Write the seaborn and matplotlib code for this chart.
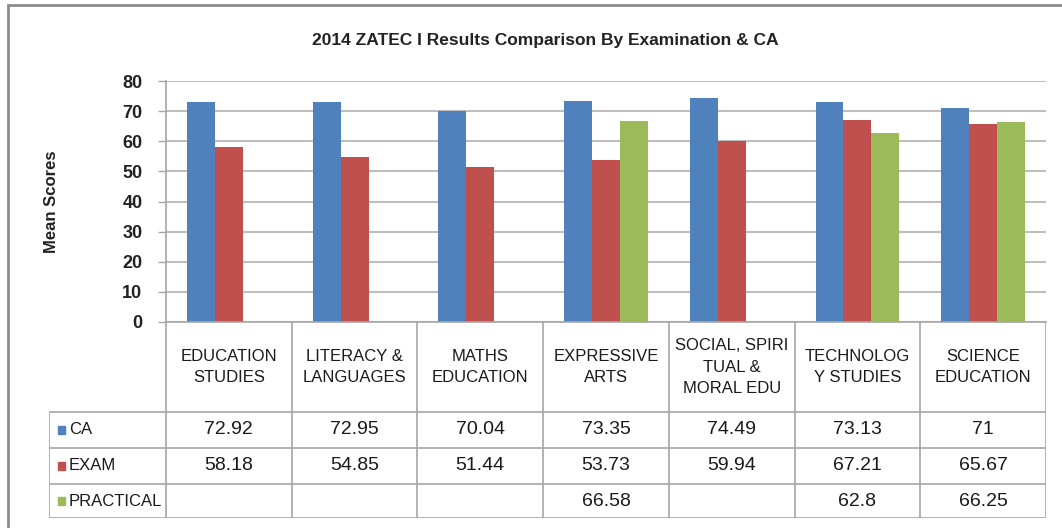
import numpy as np
import pandas as pd
import matplotlib
matplotlib.use("Agg")
import matplotlib.pyplot as plt
import seaborn as sns
from matplotlib.patches import Rectangle

categories = ["EDUCATION\nSTUDIES", "LITERACY &\nLANGUAGES", "MATHS\nEDUCATION",
              "EXPRESSIVE\nARTS", "SOCIAL, SPIRI\nTUAL &\nMORAL EDU",
              "TECHNOLOG\nY STUDIES", "SCIENCE\nEDUCATION"]
series = ["CA", "EXAM", "PRACTICAL"]
ca = [72.92, 72.95, 70.04, 73.35, 74.49, 73.13, 71]
exam = [58.18, 54.85, 51.44, 53.73, 59.94, 67.21, 65.67]
practical = [np.nan, np.nan, np.nan, 66.58, np.nan, 62.8, 66.25]
yticks = [0, 10, 20, 30, 40, 50, 60, 70, 80]
colors = ["#4F81BD", "#C0504D", "#9BBB59"]

title = "2014 ZATEC I Results Comparison By Examination & CA"

rows = []
for name, vals in zip(series, [ca, exam, practical]):
    for cat, v in zip(categories, vals):
        rows.append({"category": cat, "series": name, "score": v})
df = pd.DataFrame(rows)

sns.set_theme(style="white")
plt.rcParams['font.family'] = ['Liberation Sans', 'DejaVu Sans']

W, H = 1062, 528
fig = plt.figure(figsize=(W / 100, H / 100), dpi=100)

def fx(px):
    return px / W

def fy(py):
    return 1 - py / H

# plot area in pixels
pl, pr, pt, pb = 166, 1046, 81, 322
ax = fig.add_axes([fx(pl), fy(pb), fx(pr - pl), fy(pt) - fy(pb)])

sns.barplot(data=df.dropna(), x="category", y="score", hue="series",
            hue_order=series, order=categories, palette=colors,
            width=0.667, gap=0, linewidth=0, ax=ax, legend=False,
            errorbar=None, saturation=1)

ax.set_xlim(-0.5, len(categories) - 0.5)
ax.set_ylim(0, 80)
ax.set_yticks(yticks)
ax.set_yticklabels([str(t) for t in yticks], fontsize=13, fontweight="bold", color="#222222")
ax.yaxis.grid(True, color="#BEBEBE", linewidth=1.5)
ax.set_axisbelow(True)
ax.tick_params(axis="y", length=6, width=1, color="#A6A6A6", direction="out", pad=11, left=True)
ax.set_xticks([])
ax.set_xlabel("")
ax.set_ylabel("")
for s in ["top", "right"]:
    ax.spines[s].set_visible(False)
for s in ["left", "bottom"]:
    ax.spines[s].set_color("#A6A6A6")
    ax.spines[s].set_linewidth(1.2)

fig.text(fx(52), fy(202), "Mean Scores", rotation=90, ha="center", va="center",
         fontsize=12, fontweight="bold", color="#222222")
fig.text(fx(545), fy(40), title, ha="center", va="center",
         fontsize=12.5, fontweight="bold", color="#222222")

# data table below the plot
tl, tb = 49, 518
extra = (pl - tl) / ((pr - pl) / len(categories))
tax = fig.add_axes([fx(tl), fy(tb), fx(pr - tl), fy(pb) - fy(tb)])
tax.set_xlim(-0.5 - extra, len(categories) - 0.5)
tax.set_ylim(tb - pb, 0)
tax.axis("off")

line_kw = dict(color="#A6A6A6", linewidth=1.2, solid_capstyle="butt")
row_edges = [90, 126, 162, tb - pb]
left_edge = -0.5 - extra
for k in range(len(categories) + 1):
    tax.plot([k - 0.5, k - 0.5], [0, tb - pb], **line_kw)
tax.plot([left_edge, left_edge], [row_edges[0], row_edges[-1]], **line_kw)
for r in row_edges:
    tax.plot([left_edge, len(categories) - 0.5], [r, r], **line_kw)

for i, cat in enumerate(categories):
    tax.text(i, row_edges[0] / 2, cat, ha="center", va="center", fontsize=12,
             color="#1A1A1A", linespacing=1.55)

for j, (name, vals) in enumerate(zip(series, [ca, exam, practical])):
    yc = (row_edges[j] + row_edges[j + 1]) / 2
    tax.add_patch(Rectangle((left_edge + 0.07, yc - 4), 0.06, 8, color=colors[j], clip_on=False))
    tax.text(left_edge + 0.16, yc, name, ha="left", va="center", fontsize=12, color="#1A1A1A")
    for i, v in enumerate(vals):
        if not np.isnan(v):
            tax.text(i, yc, f"{v:g}", ha="center", va="center", fontsize=14, color="#1A1A1A")

# outer chart border
fig.add_artist(Rectangle((fx(8), -0.05), 1.2, fy(5) + 0.05, transform=fig.transFigure,
                         fill=False, edgecolor="#8C8C8C", linewidth=2))

fig.savefig("out.png", dpi=100, facecolor="white")
